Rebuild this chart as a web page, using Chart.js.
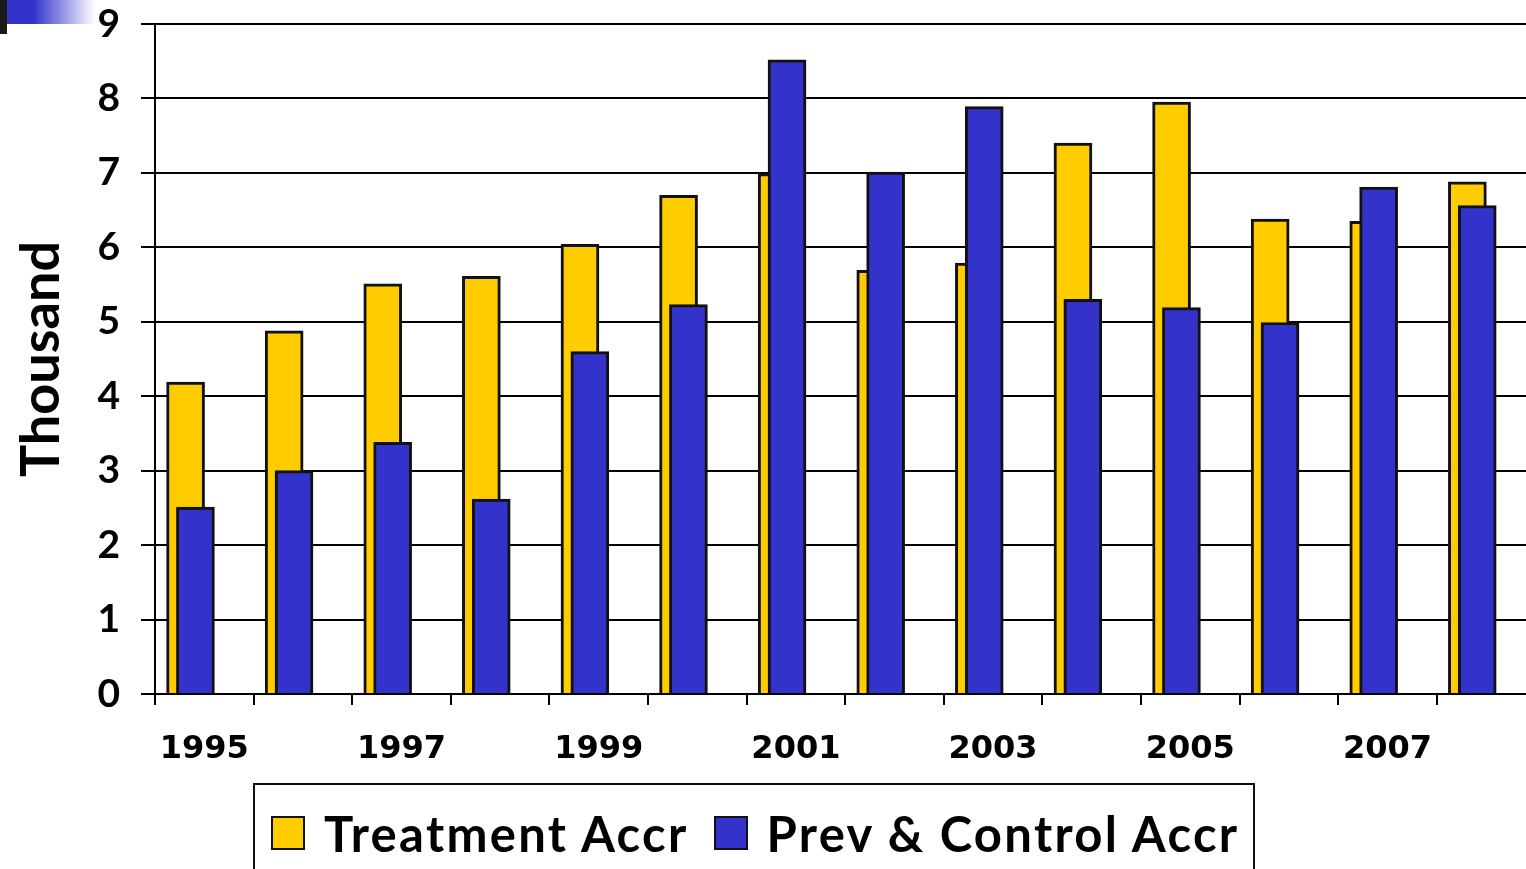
<!DOCTYPE html>
<html>
<head>
<meta charset="utf-8">
<script src="https://cdn.jsdelivr.net/npm/chart.js@4.4.0/dist/chart.umd.min.js"></script>
<style>
  html, body { margin: 0; padding: 0; background: #fff; overflow: hidden; }
  #wrap { position: relative; width: 1526px; height: 869px; overflow: hidden; }
  #chartBox { position: absolute; left: 0; top: 0; }
  .corner { position: absolute; left: 0; top: 0; width: 95px; height: 24px;
    background: linear-gradient(to right, #3333cc 0%, #3333cc 35%, #ffffff 100%); }
  .corner-bar { position: absolute; left: 0; top: 0; width: 7px; height: 34px; background: #1a1a1a; }
  #legend { position: absolute; left: 253px; top: 783px; width: 1002px; height: 120px;
    border: 2px solid #111; box-sizing: border-box; display: flex; align-items: flex-start;
    padding: 28px 0 0 16px; font-family: Lato, sans-serif; font-weight: 700; font-size: 49px;
    color: #000; white-space: nowrap; }
  .item { display: flex; align-items: center; margin-right: 25px; }
  .swatch { width: 34px; height: 34px; border: 2px solid #111; box-sizing: border-box; margin-right: 19px; }
  .txt { line-height: 40px; letter-spacing: 2.3px; }
</style>
</head>
<body>
<div id="wrap">
  <canvas id="chartBox" width="1546" height="783"></canvas>
  <div class="corner"></div>
  <div class="corner-bar"></div>
  <div id="legend"></div>
</div>
<script>
// data (thousands)
const years = [1995, 1996, 1997, 1998, 1999, 2000, 2001, 2002, 2003, 2004, 2005, 2006, 2007, 2008];
const yearLabels = years.map(String);
const treatment = [4.19, 4.88, 5.51, 5.61, 6.04, 6.70, 6.99, 5.69, 5.79, 7.40, 7.95, 6.38, 6.35, 6.88];
const prevention = [2.51, 3.00, 3.38, 2.62, 4.60, 5.23, 8.52, 7.01, 7.89, 5.30, 5.19, 4.99, 6.81, 6.56];
const yTicks = [0, 1, 2, 3, 4, 5, 6, 7, 8, 9];

const yellow = '#FFCC00';
const blue = '#3333CC';

// overlapping bars: each series on its own hidden linear axis, shifted a bit
function barAxis(shift) {
  return {
    type: 'linear',
    display: false,
    offset: false,
    min: years[0] - 0.5 - shift,
    max: years[years.length - 1] + 0.5 - shift
  };
}

const data = {
  labels: yearLabels,
  datasets: [{
    label: 'Treatment Accr',
    data: years.map((yr, i) => ({ x: yr, y: treatment[i] })),
    xAxisID: 'xa',
    backgroundColor: yellow,
    borderColor: '#111',
    borderWidth: 3,
    barThickness: 38,
    grouped: false,
    order: 1
  }, {
    label: 'Prev & Control Accr',
    data: years.map((yr, i) => ({ x: yr, y: prevention[i] })),
    xAxisID: 'xb',
    backgroundColor: blue,
    borderColor: '#111',
    borderWidth: 3,
    barThickness: 38,
    grouped: false,
    order: 0
  }]
};

const config = {
  type: 'bar',
  data,
  options: {
    responsive: false,
    animation: false,
    layout: { padding: { top: 0, right: 10.6, left: 0, bottom: 0 } },
    plugins: {
      legend: { display: false },
      tooltip: { enabled: false }
    },
    scales: {
      x: {
        type: 'category',
        offset: true,
        afterFit: function(scale) { scale.height = 89; },
        grid: { display: true, drawOnChartArea: false, drawTicks: true, tickLength: 11,
                color: '#000', lineWidth: 2, offset: true },
        border: { display: true, color: '#000', width: 2 },
        ticks: {
          autoSkip: false, maxRotation: 0, color: '#000', padding: 25,
          font: { family: 'DejaVu Sans', weight: 'bold', size: 32 },
          callback: function(value, index) {
            return index % 2 === 0 ? this.getLabelForValue(value) : '';
          }
        }
      },
      xa: barAxis(-0.19),
      xb: barAxis(-0.09),
      y: {
        min: yTicks[0],
        max: yTicks[yTicks.length - 1],
        afterFit: function(scale) { scale.width = 155; },
        afterBuildTicks: function(scale) { scale.ticks = yTicks.map(v => ({ value: v })); },
        grid: { color: '#000', lineWidth: 2, tickLength: 14, drawTicks: true },
        border: { display: true, color: '#000', width: 2 },
        ticks: {
          color: '#000', padding: 21,
          font: { family: 'Lato', weight: 'bold', size: 39, lineHeight: '6px' }
        },
        title: {
          display: true, text: 'Thousand', color: '#000',
          font: { family: 'Lato', weight: 'bold', size: 54 },
          padding: { top: 9, bottom: 0 }
        }
      }
    }
  }
};

const chart = new Chart(document.getElementById('chartBox'), config);

// boxed legend under the chart
const legendEl = document.getElementById('legend');
chart.data.datasets.forEach(function(ds) {
  const item = document.createElement('div');
  item.className = 'item';
  const sw = document.createElement('span');
  sw.className = 'swatch';
  sw.style.background = ds.backgroundColor;
  const tx = document.createElement('span');
  tx.className = 'txt';
  tx.textContent = ds.label;
  item.appendChild(sw);
  item.appendChild(tx);
  legendEl.appendChild(item);
});
</script>
</body>
</html>
